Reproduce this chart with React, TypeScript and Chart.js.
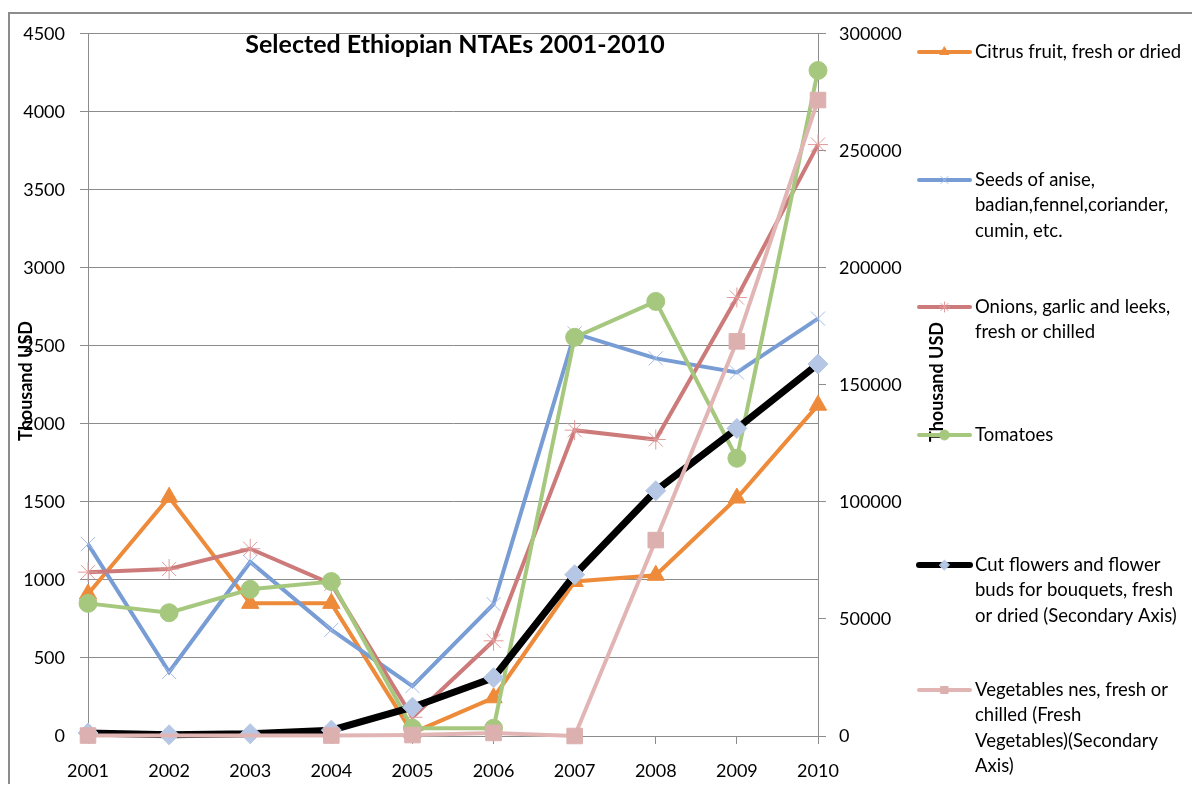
import React, { useEffect, useRef } from "react";
import { Chart, registerables } from "chart.js";
import { drawPoint } from "chart.js/helpers";

Chart.register(...registerables);

const years = ["2001", "2002", "2003", "2004", "2005", "2006", "2007", "2008", "2009", "2010"];
const citrus = [910, 1530, 850, 850, 20, 245, 990, 1030, 1525, 2120];
const seeds = [1230, 410, 1115, 680, 320, 845, 2580, 2420, 2330, 2675];
const onions = [1050, 1070, 1200, 975, 120, 610, 1960, 1900, 2810, 3790];
const tomatoes = [850, 790, 940, 990, 50, 50, 2555, 2785, 1780, 4265];
const flowers = [1300, 500, 1000, 2500, 12300, 24900, 68900, 104800, 131400, 158900];
const vegetables = [200, null, null, 200, 400, 1300, 0, 83700, 168600, 271700];

const leftTicks = { min: 0, max: 4500, step: 500 };
const rightTicks = { min: 0, max: 300000, step: 50000 };

const chartTitle = "Selected Ethiopian NTAEs 2001-2010";
const axisTitle = "Thousand USD";

const legendLines: string[][] = [
  ["Citrus fruit, fresh or dried"],
  ["Seeds of anise,", "badian,fennel,coriander,", "cumin, etc."],
  ["Onions, garlic and leeks,", "fresh or chilled"],
  ["Tomatoes"],
  ["Cut flowers and flower", "buds for bouquets, fresh", "or dried (Secondary Axis)"],
  ["Vegetables nes, fresh or", "chilled (Fresh", "Vegetables)(Secondary", "Axis)"],
];

const FONT = "Lato, 'Open Sans', sans-serif";
const GRID = "#8c8c8c";

const decorPlugin = {
  id: "decor",
  beforeDraw(chart: any) {
    const ctx = chart.ctx;
    ctx.save();
    ctx.strokeStyle = GRID;
    ctx.lineWidth = 2;
    ctx.beginPath();
    ctx.moveTo(1, chart.height + 10);
    ctx.lineTo(1, 5);
    ctx.lineTo(chart.width + 10, 5);
    ctx.stroke();
    ctx.restore();
  },
  afterDraw(chart: any) {
    const ctx = chart.ctx;
    ctx.save();
    ctx.fillStyle = "#000";
    // chart title
    ctx.font = `bold 25px ${FONT}`;
    ctx.textAlign = "center";
    ctx.textBaseline = "middle";
    ctx.fillText(chartTitle, 447, 37);
    // axis titles
    ctx.font = `bold 18px ${FONT}`;
    ctx.save();
    ctx.translate(18, 373);
    ctx.rotate(-Math.PI / 2);
    ctx.fillText(axisTitle, 0, 0);
    ctx.restore();
    ctx.save();
    ctx.translate(929, 374);
    ctx.rotate(-Math.PI / 2);
    ctx.fillText(axisTitle, 0, 0);
    ctx.restore();
    // legend
    const ys = [44, 172, 299, 427, 557, 682];
    const lineH = 25.5;
    chart.data.datasets.forEach((ds: any, i: number) => {
      const y = ys[i];
      ctx.save();
      ctx.strokeStyle = ds.borderColor;
      ctx.lineWidth = ds.borderWidth > 5 ? 6 : 4;
      ctx.lineCap = "round";
      ctx.beginPath();
      ctx.moveTo(911, y);
      ctx.lineTo(962, y);
      ctx.stroke();
      ctx.fillStyle = ds.pointBackgroundColor;
      ctx.strokeStyle = ds.pointBorderColor;
      ctx.lineWidth = ds.pointBorderWidth;
      drawPoint(ctx, { pointStyle: ds.pointStyle, radius: 5, rotation: 0, borderWidth: ds.pointBorderWidth }, 936.5, y);
      ctx.restore();
      ctx.save();
      ctx.fillStyle = "#000";
      ctx.font = `18.5px ${FONT}`;
      ctx.textAlign = "left";
      ctx.textBaseline = "middle";
      legendLines[i].forEach((t, k) => ctx.fillText(t, 967, y + k * lineH));
      ctx.restore();
    });
    ctx.restore();
  },
};

export default function App() {
  const ref = useRef<HTMLCanvasElement | null>(null);
  useEffect(() => {
    if (!ref.current) return;
    const tickFont = { family: FONT, size: 18 };
    const plain = (v: any) => String(v);
    const mk = (data: any[], color: string, width: number, style: string, pfill: string, pborder: string, pbw: number, radius: number, axis: string, order: number, span = false) => ({
      data,
      borderColor: color,
      backgroundColor: color,
      borderWidth: width,
      pointStyle: style,
      pointBackgroundColor: pfill,
      pointBorderColor: pborder,
      pointBorderWidth: pbw,
      pointRadius: radius,
      pointHoverRadius: radius,
      tension: 0,
      fill: false,
      spanGaps: span,
      clip: false,
      yAxisID: axis,
      order,
    });
    const chart = new Chart(ref.current, {
      type: "line",
      data: {
        labels: years,
        datasets: [
          { label: legendLines[0].join(" "), ...mk(citrus, "#EE8B3A", 4, "triangle", "#EE8B3A", "#EE8B3A", 1, 10, "y", 5) },
          { label: legendLines[1].join(" "), ...mk(seeds, "#789CD4", 4, "crossRot", "#A3BDE8", "#A3BDE8", 1, 10, "y", 4) },
          { label: legendLines[2].join(" "), ...mk(onions, "#CC7A7A", 4, "star", "#E29A9A", "#E29A9A", 1, 10, "y", 3) },
          { label: legendLines[3].join(" "), ...mk(tomatoes, "#A6C87E", 4, "circle", "#A6C87E", "#A6C87E", 1, 9, "y", 2) },
          { label: legendLines[4].join(" "), ...mk(flowers, "#000000", 7, "rectRot", "#B5C7E4", "#B5C7E4", 1, 10, "y2", 1) },
          { label: legendLines[5].join(" "), ...mk(vegetables, "#E2B5B5", 4, "rect", "#DDB0B0", "#DDB0B0", 1, 11, "y2", 0, true) },
        ],
      } as any,
      options: {
        responsive: false,
        animation: false,
        layout: { padding: { top: 18, left: 0, right: 0, bottom: 0 } },
        plugins: { legend: { display: false }, title: { display: false }, tooltip: { enabled: false } },
        scales: {
          x: {
            offset: false,
            grid: { drawOnChartArea: false, drawTicks: true, tickLength: 8, color: GRID },
            border: { display: true, color: GRID },
            ticks: { font: tickFont, color: "#000", padding: 16, maxRotation: 0, autoSkip: false },
            afterFit: (s: any) => { s.height = 48; },
          },
          y: {
            position: "left",
            min: leftTicks.min,
            max: leftTicks.max,
            ticks: { stepSize: leftTicks.step, font: tickFont, color: "#000", padding: 15, callback: plain },
            grid: { color: GRID, tickLength: 8 },
            border: { color: GRID },
            afterFit: (s: any) => { s.width = 80; },
          },
          y2: {
            position: "right",
            min: rightTicks.min,
            max: rightTicks.max,
            ticks: { stepSize: rightTicks.step, font: tickFont, color: "#000", padding: 13, callback: plain },
            grid: { drawOnChartArea: false, color: GRID, tickLength: 8 },
            border: { color: GRID },
            afterFit: (s: any) => { s.width = 374; },
          },
        },
      } as any,
      plugins: [decorPlugin],
    });
    return () => chart.destroy();
  }, []);
  return (
    <div style={{ width: 1184, height: 776 }}>
      <canvas ref={ref} width={1184} height={776} style={{ display: "block" }} />
    </div>
  );
}
